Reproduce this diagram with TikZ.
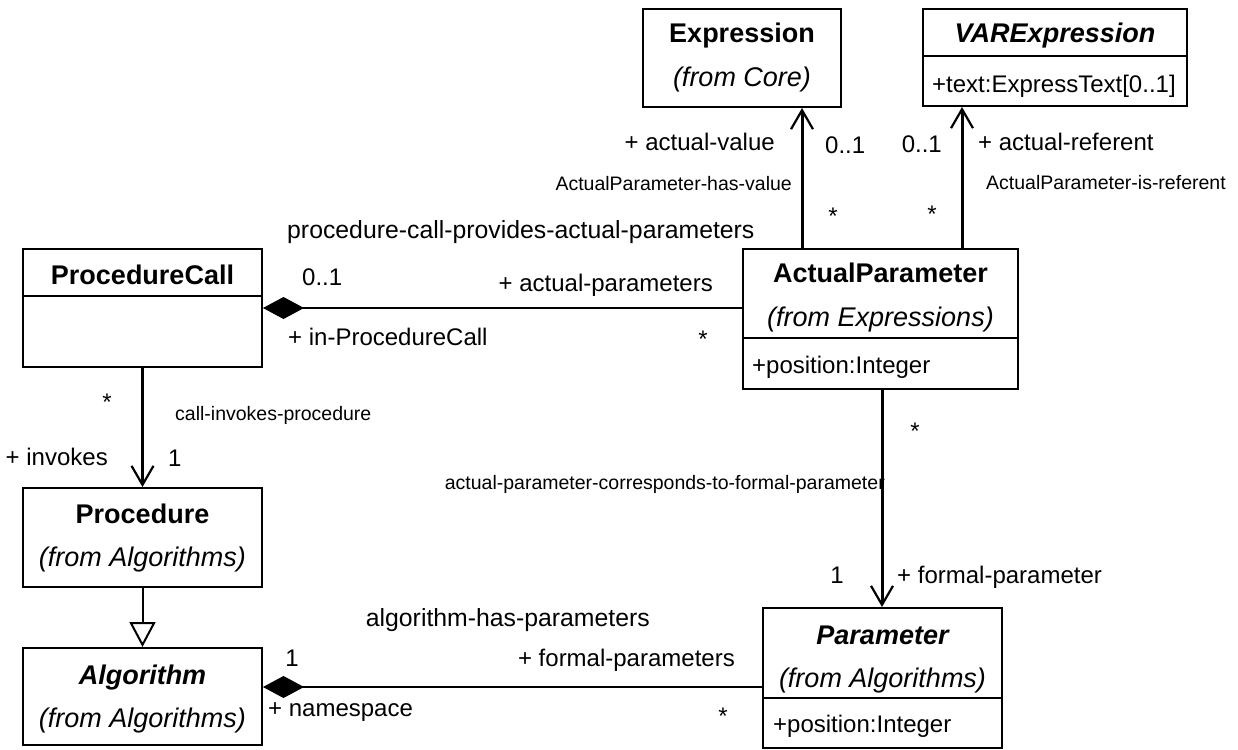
\documentclass[tikz,border=0pt]{standalone}
\usepackage{fontspec}
\setmainfont{Liberation Sans}
\usetikzlibrary{arrows.meta,positioning,calc}

\begin{document}
\begin{tikzpicture}[x=1pt, y=-1pt,
    cls/.style={draw, line width=2pt, inner sep=0pt},
    ttl/.style={inner sep=0pt, text height=19.3pt, text depth=0pt, font=\fontsize{27}{30}\selectfont\bfseries},
    ttlabs/.style={ttl, font=\fontsize{27}{30}\selectfont\bfseries\itshape},
    pkg/.style={inner sep=0pt, text height=19.3pt, text depth=0pt, font=\fontsize{27}{30}\selectfont\itshape},
    attr/.style={inner sep=0pt, text height=17.2pt, text depth=0pt, anchor=west, font=\fontsize{24}{28}\selectfont},
    role/.style={inner sep=0pt, text height=17.2pt, text depth=0pt, font=\fontsize{24}{28}\selectfont},
    assocname/.style={inner sep=0pt, text height=17.8pt, text depth=0pt, font=\fontsize{24.8}{28}\selectfont},
    small/.style={inner sep=0pt, text height=14pt, text depth=0pt, font=\fontsize{19.5}{22}\selectfont},
    link/.style={line width=3pt},
    openarr/.style={-{Straight Barb[length=19pt,width=22pt,line width=2.2pt]}},
    compo/.style={{Diamond[length=41pt,width=22pt,line width=1pt]}-}
  ]
  \useasboundingbox (0,0) rectangle (1238,749);

  % --- Classes ---
  \node[cls, minimum width=198pt, minimum height=98pt]  (expr)    at (742,58)    {};
  \node[cls, minimum width=264pt, minimum height=97pt]  (varexpr) at (1055,57.5) {};
  \node[cls, minimum width=239pt, minimum height=118pt] (pcall)   at (142.5,308) {};
  \node[cls, minimum width=275pt, minimum height=140pt] (aparam)  at (880.5,319) {};
  \node[cls, minimum width=239pt, minimum height=99pt]  (proc)    at (142.5,537.5) {};
  \node[cls, minimum width=239pt, minimum height=97pt]  (algo)    at (142.5,696.5) {};
  \node[cls, minimum width=239pt, minimum height=140pt] (param)   at (882.5,678) {};

  % compartments
  \draw[line width=2pt] ($(varexpr.north west)+(0,48)$) -- ($(varexpr.north east)+(0,48)$);
  \draw[line width=2pt] ($(pcall.north west)+(0,48)$)   -- ($(pcall.north east)+(0,48)$);
  \draw[line width=2pt] ($(aparam.north west)+(0,90)$)  -- ($(aparam.north east)+(0,90)$);
  \draw[line width=2pt] ($(param.north west)+(0,91)$)   -- ($(param.north east)+(0,91)$);

  \node[ttl]    (exprT)    at (742,33)   {Expression};
  \node[pkg]    (exprP)    at (742,77)   {(from Core)};
  \node[ttlabs] (varexprT) at (1055,33)  {VARExpression};
  \node[attr]   (varexprA) at (932,84)   {+text:ExpressText[0..1]};
  \node[ttl]    (pcallT)   at (142.5,275) {ProcedureCall};
  \node[ttl]    (aparamT)  at (880.5,273) {ActualParameter};
  \node[pkg]    (aparamP)  at (880.5,317) {(from Expressions)};
  \node[attr]   (aparamA)  at (752,365)  {+position:Integer};
  \node[ttl]    (procT)    at (142.5,514) {Procedure};
  \node[pkg]    (procP)    at (142.5,557) {(from Algorithms)};
  \node[ttlabs] (algoT)    at (142.5,675) {Algorithm};
  \node[pkg]    (algoP)    at (142.5,718) {(from Algorithms)};
  \node[ttlabs] (paramT)   at (882.5,635) {Parameter};
  \node[pkg]    (paramP)   at (882.5,678) {(from Algorithms)};
  \node[attr]   (paramA)   at (773,724)  {+position:Integer};

  % --- Associations ---
  \coordinate (vVal) at (802,0);
  \coordinate (vRef) at (962,0);
  \coordinate (vFor) at (882,0);
  \coordinate (hAlg) at (0,687);

  \draw[link, openarr] (vVal |- aparam.north) -- (vVal |- expr.south);
  \draw[link, openarr] (vRef |- aparam.north) -- (vRef |- varexpr.south);
  \draw[link, openarr] (vFor |- aparam.south) -- (vFor |- param.north);
  \draw[line width=2.6pt, compo] (pcall.east) -- (pcall.east -| aparam.west);
  \draw[line width=2.4pt, openarr] (pcall.south) -- (proc.north);
  \draw[line width=2pt, -{Triangle[open,length=25pt,width=26pt,line width=2pt]}] (proc.south) -- (algo.north);
  \draw[line width=2.2pt, compo] (algo.east |- hAlg) -- (param.west |- hAlg);

  % labels: value / referent
  \node[role, anchor=east]  (rVal)  at (775,142) {+ actual-value};
  \node[role, anchor=west]  (mVal)  at (825,145) {0..1};
  \node[small, anchor=east] (aVal)  at (792,183) {ActualParameter-has-value};
  \node[role]               (sVal)  at (833,216) {*};
  \node[role, anchor=east]  (mRef)  at (942,144) {0..1};
  \node[role, anchor=west]  (rRef)  at (978,142) {+ actual-referent};
  \node[small, anchor=west] (aRef)  at (986,182) {ActualParameter-is-referent};
  \node[role]               (sRef)  at (932,214) {*};

  % labels: procedure call
  \node[assocname, anchor=west] (aPrv) at (287,230) {procedure-call-provides-actual-parameters};
  \node[role, anchor=west]  (mPc)   at (302,277) {0..1};
  \node[role, anchor=west]  (rPc)   at (288,337) {+ in-ProcedureCall};
  \node[role, anchor=east]  (rAp)   at (713,283) {+ actual-parameters};
  \node[role]               (sAp)   at (703,339) {*};
  \node[role]               (sInv)  at (107,402) {*};
  \node[small, anchor=west] (aInv)  at (175,413) {call-invokes-procedure};
  \node[role, anchor=east]  (rInv)  at (108,457) {+ invokes};
  \node[role, anchor=west]  (mInv)  at (168,458) {1};

  % labels: formal parameter
  \node[role]               (sFor)  at (915,431) {*};
  \node[small, anchor=east] (aFor)  at (885,482) {actual-parameter-corresponds-to-formal-parameter};
  \node[role]               (mFor)  at (837,575) {1};
  \node[role, anchor=west]  (rFor)  at (897,575) {+ formal-parameter};

  % labels: algorithm parameters
  \node[assocname, anchor=east] (aAlg) at (650,618) {algorithm-has-parameters};
  \node[role]               (mAlg)  at (292,658) {1};
  \node[role, anchor=west]  (rAlg)  at (268,708) {+ namespace};
  \node[role, anchor=east]  (rPar)  at (735,658) {+ formal-parameters};
  \node[role]               (sPar)  at (723,716) {*};
\end{tikzpicture}
\end{document}
